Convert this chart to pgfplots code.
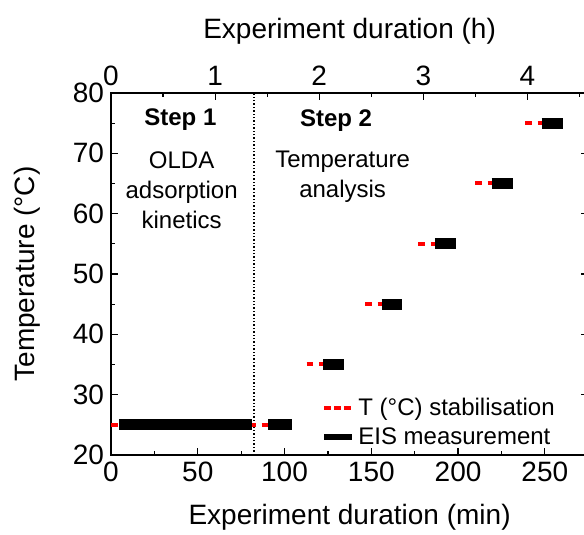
\documentclass[border=0pt]{standalone}
\usepackage{pgfplots}
\pgfplotsset{compat=1.18}
\usepackage{fontspec}
\setmainfont{Liberation Sans}
\newcommand{\fs}[1]{\fontsize{#1}{1.25\dimexpr#1pt\relax}\selectfont}
\begin{document}
\begin{tikzpicture}
\useasboundingbox (-55.5pt,-40pt) rectangle (236.5pt,227.5pt);
\pgfplotsset{
  base/.style={
    at={(0,0)}, anchor=south west,
    scale only axis, width=238.6pt, height=181pt,
    xmin=0, xmax=275, ymin=20, ymax=80,
    tick align=inside,
    major tick length=3.5pt, minor tick length=1.8pt,
    every tick/.style={black, line width=0.6pt},
    axis line style={line width=0.8pt},
    tick label style={font=\fs{14}},
    /pgf/number format/assume math mode=true,
  }
}
\begin{axis}[base,
  xtick={0,50,...,250}, minor xtick={25,75,...,275},
  xtick pos=bottom,
  ytick={20,30,...,80}, minor ytick={25,35,...,75},
  ytick pos=both, yticklabel pos=left,
  xlabel={Experiment duration (min)},
  ylabel={Temperature (°C)},
  xlabel style={font=\fs{14}, at={(axis description cs:0.5,-0.1713)}, anchor=center},
  ylabel style={font=\fs{14}, at={(axis description cs:-0.176,0.5)}, anchor=center},
  unbounded coords=jump,
  legend style={at={(axis cs:121,30.0)}, anchor=north west, draw=none, fill=none,
    font=\fs{12}, row sep=1.5pt, inner sep=0pt,
    nodes={inner sep=1.5pt}},
  legend cell align=left,
  legend image code/.code={\draw[#1] (0pt,0pt) -- (14pt,0pt);},
  clip=false,
]
% vertical dotted separator
\addplot[black, line width=0.7pt, densely dotted, forget plot] coordinates {(82.4,20) (82.4,80)};
% T stabilisation (red)
\addplot[red, line width=2pt, dash pattern=on 3.3pt off 3pt, forget plot] coordinates {
  (0,25) (4.8,25) (nan,nan)
  (79.5,25) (90.7,25) (nan,nan)
  (112.8,35) (122.4,35) (nan,nan)
  (146.4,45) (156.0,45) (nan,nan)
  (177.1,55) (186.7,55) (nan,nan)
  (209.8,65) (219.4,65) (nan,nan)
  (238.6,75) (248.2,75)
};
% EIS measurement (black)
\addplot[black, line width=5.5pt, forget plot] coordinates {
  (4.8,25) (81.1,25) (nan,nan)
  (90.7,25) (104.1,25) (nan,nan)
  (122.4,35) (134.5,35) (nan,nan)
  (156.0,45) (167.5,45) (nan,nan)
  (186.7,55) (198.7,55) (nan,nan)
  (219.4,65) (231.5,65) (nan,nan)
  (248.2,75) (260.5,75)
};
\addlegendimage{red, line width=2pt, dash pattern=on 3.3pt off 1.6pt}
\addlegendentry{T (°C) stabilisation}
\addlegendimage{black, line width=3pt}
\addlegendentry{EIS measurement}
\node[font=\fs{12}\bfseries] at (axis cs:40,75.6) {Step 1};
\node[font=\fs{12}, align=center] at (axis cs:40.7,63.9) {OLDA\\adsorption\\kinetics};
\node[font=\fs{12}\bfseries] at (axis cs:129.7,75.4) {Step 2};
\node[font=\fs{12}, align=center] at (axis cs:133.5,66.1) {Temperature\\analysis};
\end{axis}
\begin{axis}[base,
  xmin=0, xmax=4.58333,
  axis x line*=top, axis y line=none,
  xtick={0,1,2,3,4}, minor xtick={0.5,1.5,2.5,3.5,4.5},
  xlabel={Experiment duration (h)},
  xlabel style={font=\fs{14}, at={(axis description cs:0.5,1.1713)}, anchor=center},
]
\addplot[draw=none] coordinates {(0,20)};
\end{axis}
\end{tikzpicture}
\end{document}
